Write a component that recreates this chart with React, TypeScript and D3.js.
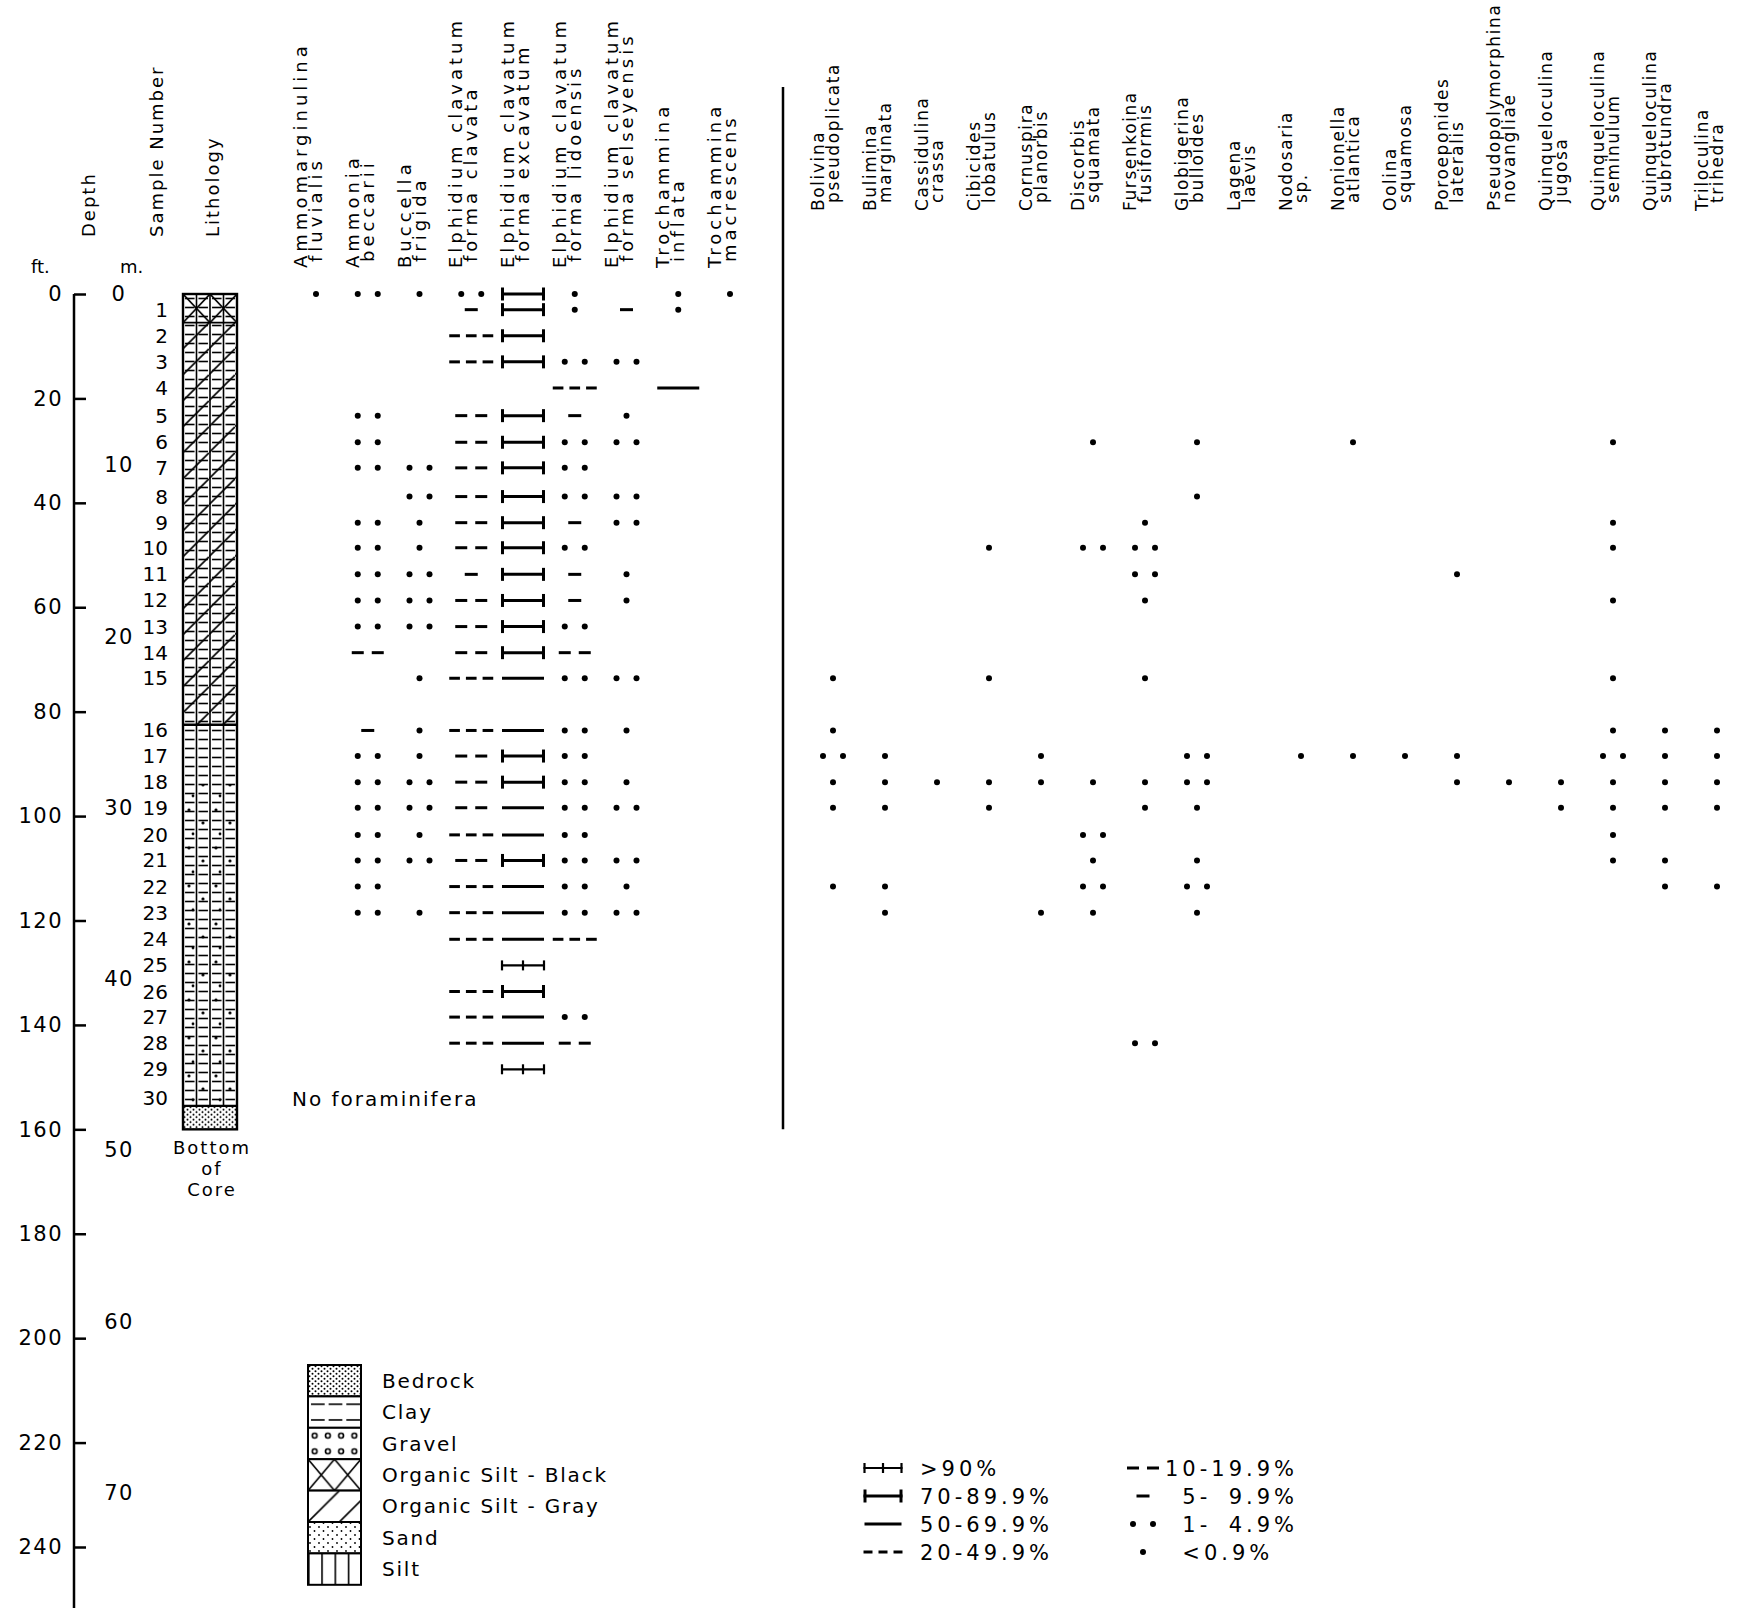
import React, { useEffect, useRef } from 'react';
import * as d3 from 'd3';

const FONT = "'DejaVu Sans', 'Liberation Sans', sans-serif";

// ---------- data ----------
const DEPTH_FT = [0, 3, 8, 13, 18, 23.3, 28.4, 33.3, 38.8, 43.8, 48.6, 53.7, 58.7, 63.7, 68.7, 73.6,
  83.6, 88.5, 93.5, 98.4, 103.6, 108.5, 113.5, 118.5, 123.6, 128.6, 133.6, 138.5, 143.5, 148.5, 154];
const SAMPLE_LABELS = ['', '1', '2', '3', '4', '5', '6', '7', '8', '9', '10', '11', '12', '13', '14', '15',
  '16', '17', '18', '19', '20', '21', '22', '23', '24', '25', '26', '27', '28', '29', '30'];
const FT_TICKS = [0, 20, 40, 60, 80, 100, 120, 140, 160, 180, 200, 220, 240];
const M_TICKS = [0, 10, 20, 30, 40, 50, 60, 70];
const FT_PER_M = 3.28084;

// abundance codes: 8 >90%, 7 70-89.9%, 6 50-69.9%, 5 20-49.9%, 4 10-19.9%, 3 5-9.9%, 2 1-4.9%, 1 <0.9%, 0 absent
const LEFT_TAXA: [string, string][] = [
  ['Ammomarginulina', 'fluvialis'],
  ['Ammonia', 'beccarii'],
  ['Buccella', 'frigida'],
  ['Elphidium clavatum', 'forma clavata'],
  ['Elphidium clavatum', 'forma excavatum'],
  ['Elphidium clavatum', 'forma lidoensis'],
  ['Elphidium clavatum', 'forma selseyensis'],
  ['Trochammina', 'inflata'],
  ['Trochammina', 'macrescens'],
];
const AMMOMARGINULINA = [1,0,0,0,0,0,0,0,0,0,0,0,0,0,0,0,0,0,0,0,0,0,0,0,0,0,0,0,0,0,0];
const AMMONIA         = [2,0,0,0,0,2,2,2,0,2,2,2,2,2,4,0,3,2,2,2,2,2,2,2,0,0,0,0,0,0,0];
const BUCCELLA        = [1,0,0,0,0,0,0,2,2,1,1,2,2,2,0,1,1,1,2,2,1,2,0,1,0,0,0,0,0,0,0];
const EC_CLAVATA      = [2,3,5,5,0,4,4,4,4,4,4,3,4,4,4,5,5,4,4,4,5,4,5,5,5,0,5,5,5,0,0];
const EC_EXCAVATUM    = [7,7,7,7,0,7,7,7,7,7,7,7,7,7,7,6,6,7,7,6,6,7,6,6,6,8,7,6,6,8,0];
const EC_LIDOENSIS    = [1,1,0,2,5,3,2,2,2,3,2,3,3,2,4,2,2,2,2,2,2,2,2,2,5,0,0,2,4,0,0];
const EC_SELSEYENSIS  = [0,3,0,2,0,1,2,0,2,2,0,1,1,0,0,2,1,0,1,2,0,2,1,2,0,0,0,0,0,0,0];
const TR_INFLATA      = [1,1,0,0,6,0,0,0,0,0,0,0,0,0,0,0,0,0,0,0,0,0,0,0,0,0,0,0,0,0,0];
const TR_MACRESCENS   = [1,0,0,0,0,0,0,0,0,0,0,0,0,0,0,0,0,0,0,0,0,0,0,0,0,0,0,0,0,0,0];
const LEFT_VALUES = [AMMOMARGINULINA, AMMONIA, BUCCELLA, EC_CLAVATA, EC_EXCAVATUM, EC_LIDOENSIS,
  EC_SELSEYENSIS, TR_INFLATA, TR_MACRESCENS];

const RIGHT_TAXA: [string, string][] = [
  ['Bolivina', 'pseudoplicata'],
  ['Bulimina', 'marginata'],
  ['Cassidulina', 'crassa'],
  ['Cibicides', 'lobatulus'],
  ['Cornuspira', 'planorbis'],
  ['Discorbis', 'squamata'],
  ['Fursenkoina', 'fusiformis'],
  ['Globigerina', 'bulloides'],
  ['Lagena', 'laevis'],
  ['Nodosaria', 'sp.'],
  ['Nonionella', 'atlantica'],
  ['Oolina', 'squamosa'],
  ['Poroeponides', 'lateralis'],
  ['Pseudopolymorphina', 'novangliae'],
  ['Quinqueloculina', 'jugosa'],
  ['Quinqueloculina', 'seminulum'],
  ['Quinqueloculina', 'subrotundra'],
  ['Triloculina', 'trihedra'],
];
const BOLIVINA      = [0,0,0,0,0,0,0,0,0,0,0,0,0,0,0,1,1,2,1,1,0,0,1,0,0,0,0,0,0,0,0];
const BULIMINA      = [0,0,0,0,0,0,0,0,0,0,0,0,0,0,0,0,0,1,1,1,0,0,1,1,0,0,0,0,0,0,0];
const CASSIDULINA   = [0,0,0,0,0,0,0,0,0,0,0,0,0,0,0,0,0,0,1,0,0,0,0,0,0,0,0,0,0,0,0];
const CIBICIDES     = [0,0,0,0,0,0,0,0,0,0,1,0,0,0,0,1,0,0,1,1,0,0,0,0,0,0,0,0,0,0,0];
const CORNUSPIRA    = [0,0,0,0,0,0,0,0,0,0,0,0,0,0,0,0,0,1,1,0,0,0,0,1,0,0,0,0,0,0,0];
const DISCORBIS     = [0,0,0,0,0,0,1,0,0,0,2,0,0,0,0,0,0,0,1,0,2,1,2,1,0,0,0,0,0,0,0];
const FURSENKOINA   = [0,0,0,0,0,0,0,0,0,1,2,2,1,0,0,1,0,0,1,1,0,0,0,0,0,0,0,0,2,0,0];
const GLOBIGERINA   = [0,0,0,0,0,0,1,0,1,0,0,0,0,0,0,0,0,2,2,1,0,1,2,1,0,0,0,0,0,0,0];
const LAGENA        = [0,0,0,0,0,0,0,0,0,0,0,0,0,0,0,0,0,0,0,0,0,0,0,0,0,0,0,0,0,0,0];
const NODOSARIA     = [0,0,0,0,0,0,0,0,0,0,0,0,0,0,0,0,0,1,0,0,0,0,0,0,0,0,0,0,0,0,0];
const NONIONELLA    = [0,0,0,0,0,0,1,0,0,0,0,0,0,0,0,0,0,1,0,0,0,0,0,0,0,0,0,0,0,0,0];
const OOLINA        = [0,0,0,0,0,0,0,0,0,0,0,0,0,0,0,0,0,1,0,0,0,0,0,0,0,0,0,0,0,0,0];
const POROEPONIDES  = [0,0,0,0,0,0,0,0,0,0,0,1,0,0,0,0,0,1,1,0,0,0,0,0,0,0,0,0,0,0,0];
const PSEUDOPOLY    = [0,0,0,0,0,0,0,0,0,0,0,0,0,0,0,0,0,0,1,0,0,0,0,0,0,0,0,0,0,0,0];
const Q_JUGOSA      = [0,0,0,0,0,0,0,0,0,0,0,0,0,0,0,0,0,0,1,1,0,0,0,0,0,0,0,0,0,0,0];
const Q_SEMINULUM   = [0,0,0,0,0,0,1,0,0,1,1,0,1,0,0,1,1,2,1,1,1,1,0,0,0,0,0,0,0,0,0];
const Q_SUBROTUNDRA = [0,0,0,0,0,0,0,0,0,0,0,0,0,0,0,0,1,1,1,1,0,1,1,0,0,0,0,0,0,0,0];
const TRILOCULINA   = [0,0,0,0,0,0,0,0,0,0,0,0,0,0,0,0,1,1,1,1,0,0,1,0,0,0,0,0,0,0,0];
const RIGHT_VALUES = [BOLIVINA, BULIMINA, CASSIDULINA, CIBICIDES, CORNUSPIRA, DISCORBIS, FURSENKOINA,
  GLOBIGERINA, LAGENA, NODOSARIA, NONIONELLA, OOLINA, POROEPONIDES, PSEUDOPOLY, Q_JUGOSA, Q_SEMINULUM,
  Q_SUBROTUNDRA, TRILOCULINA];

// lithology units (depth in ft)
const LITH_UNITS = [
  { top: 0, base: 5.5, fills: ['osb', 'clay'] },
  { top: 5.5, base: 82.5, fills: ['osg', 'clay'] },
  { top: 82.5, base: 155.5, fills: ['clay'] },
  { top: 94, base: 155.5, fills: ['sand'] },
  { top: 155.5, base: 160, fills: ['bedrock'] },
];
const SILT_TOP = 0, SILT_BASE = 155.5, CORE_BASE = 160;

const LITH_LEGEND = ['Bedrock', 'Clay', 'Gravel', 'Organic Silt - Black', 'Organic Silt - Gray', 'Sand', 'Silt'];
const LITH_LEGEND_KEYS = ['bedrock', 'clay', 'gravel', 'osb', 'osg', 'sand', 'silt'];

const PCT_LEFT_CODES = [8, 7, 6, 5];
const PCT_LEFT_LABELS = ['>90%', '70-89.9%', '50-69.9%', '20-49.9%'];
const PCT_RIGHT_CODES = [4, 3, 2, 1];
const PCT_RIGHT_LABELS = ['10-19.9%', '\u20075-\u20079.9%', '\u20071-\u20074.9%', '\u2007<0.9%'];

// ---------- drawing helpers ----------
function Sym({ code, cx, cy, w }: { code: number; cx: number; cy: number; w: number }) {
  const k = '#000';
  const x0 = cx - w / 2, x1 = cx + w / 2;
  switch (code) {
    case 8:
      return (
        <g stroke={k} strokeWidth={2.2}>
          <line x1={x0} x2={x1} y1={cy} y2={cy} />
          {[x0 + 1, cx, x1 - 1].map((x, i) => <line key={i} x1={x} x2={x} y1={cy - 5} y2={cy + 5} />)}
        </g>
      );
    case 7:
      return (
        <g stroke={k} strokeWidth={3}>
          <line x1={x0} x2={x1} y1={cy} y2={cy} />
          <line x1={x0 + 1.5} x2={x0 + 1.5} y1={cy - 6.5} y2={cy + 6.5} />
          <line x1={x1 - 1.5} x2={x1 - 1.5} y1={cy - 6.5} y2={cy + 6.5} />
        </g>
      );
    case 6:
      return <line stroke={k} strokeWidth={3} x1={x0 + 1} x2={x1 - 1} y1={cy} y2={cy} />;
    case 5: {
      const gap = 6, d = (w - 2 * gap) / 3;
      return (
        <g stroke={k} strokeWidth={3}>
          {[0, 1, 2].map(i => <line key={i} x1={x0 + i * (d + gap)} x2={x0 + i * (d + gap) + d} y1={cy} y2={cy} />)}
        </g>
      );
    }
    case 4:
      return (
        <g stroke={k} strokeWidth={3}>
          <line x1={cx - 16} x2={cx - 4} y1={cy} y2={cy} />
          <line x1={cx + 4} x2={cx + 16} y1={cy} y2={cy} />
        </g>
      );
    case 3:
      return <line stroke={k} strokeWidth={3} x1={cx - 6.5} x2={cx + 6.5} y1={cy} y2={cy} />;
    case 2:
      return (
        <g fill={k}>
          <circle cx={cx - 10} cy={cy} r={3} />
          <circle cx={cx + 10} cy={cy} r={3} />
        </g>
      );
    case 1:
      return <circle fill={k} cx={cx} cy={cy} r={3} />;
    default:
      return null;
  }
}

function PatternDefs({ id, kind, x, y, sub, cell }: { id: string; kind: string; x: number; y: number; sub: number; cell: number }) {
  const s = '#000';
  if (kind === 'clay')
    return (
      <pattern id={id} patternUnits="userSpaceOnUse" x={x} y={y} width={sub} height={cell}>
        <path d={`M2 ${cell / 2}H${sub - 2}`} stroke={s} strokeWidth={1.6} />
      </pattern>
    );
  if (kind === 'osg')
    return (
      <pattern id={id} patternUnits="userSpaceOnUse" x={x} y={y} width={cell} height={cell}>
        <path d={`M-1 ${cell + 1}L${cell + 1} -1`} stroke={s} strokeWidth={1.6} />
      </pattern>
    );
  if (kind === 'osb')
    return (
      <pattern id={id} patternUnits="userSpaceOnUse" x={x} y={y} width={sub * 2} height={cell}>
        <path d={`M0 0L${sub * 2} ${cell}M${sub * 2} 0L0 ${cell}`} stroke={s} strokeWidth={1.6} />
      </pattern>
    );
  if (kind === 'sand')
    return (
      <pattern id={id} patternUnits="userSpaceOnUse" x={x} y={y} width={27} height={38}>
        <circle cx={6} cy={8} r={1.6} fill={s} />
        <circle cx={20} cy={21} r={1.6} fill={s} />
        <circle cx={10} cy={32} r={1.4} fill={s} />
      </pattern>
    );
  if (kind === 'sandLegend')
    return (
      <pattern id={id} patternUnits="userSpaceOnUse" x={x} y={y} width={9} height={8}>
        <circle cx={2} cy={2} r={0.9} fill={s} />
        <circle cx={6.5} cy={6} r={0.9} fill={s} />
      </pattern>
    );
  if (kind === 'bedrock')
    return (
      <pattern id={id} patternUnits="userSpaceOnUse" x={x} y={y} width={6} height={5}>
        <circle cx={1.5} cy={1.2} r={1} fill={s} />
        <circle cx={4.5} cy={3.7} r={1} fill={s} />
      </pattern>
    );
  if (kind === 'gravel')
    return (
      <pattern id={id} patternUnits="userSpaceOnUse" x={x} y={y} width={sub} height={cell}>
        <circle cx={sub / 2} cy={cell / 2} r={2.4} fill="none" stroke={s} strokeWidth={1.6} />
      </pattern>
    );
  if (kind === 'silt')
    return (
      <pattern id={id} patternUnits="userSpaceOnUse" x={x} y={y} width={sub} height={cell}>
        <line x1={0.8} x2={0.8} y1={0} y2={cell} stroke={s} strokeWidth={1.6} />
      </pattern>
    );
  return null;
}

export default function App() {
  const W = 1743, H = 1608;
  const axisRef = useRef<SVGGElement>(null);

  const y = d3.scaleLinear().domain([0, 240]).range([294, 1547]);
  const xL = d3.scalePoint<number>().domain(d3.range(LEFT_TAXA.length)).range([316, 730]);
  const xR = d3.scalePoint<number>().domain(d3.range(RIGHT_TAXA.length)).range([833, 1717]);

  const AXIS_X = 74;
  const COL_X0 = 183, COL_W = 54, SUB = COL_W / 4;

  useEffect(() => {
    if (!axisRef.current) return;
    const g = d3.select(axisRef.current);
    g.selectAll('*').remove();
    const axis = d3.axisLeft(y).tickValues(FT_TICKS).tickSizeInner(-12).tickSizeOuter(0).tickPadding(11)
      .tickFormat(d => String(d));
    g.call(axis as any);
    g.attr('font-family', FONT).attr('font-size', 21);
    g.select('.domain').remove();
    g.selectAll('.tick line').attr('stroke', '#000').attr('stroke-width', 2.5);
    g.selectAll('.tick text').attr('fill', '#000').attr('letter-spacing', 1.5);
  }, []);

  const nRows = DEPTH_FT.length;
  const legTop = 1365, legStep = 31.4, legX = 308, legW = 53;
  const pctTop = 1468, pctStep = 28;

  return (
    <svg width={W} height={H} style={{ position: 'absolute', left: 0, top: 0, background: '#fff' }}
      fontFamily={FONT}>
      <defs>
        <PatternDefs id="c-clay" kind="clay" x={COL_X0} y={y(0)} sub={SUB} cell={9} />
        <PatternDefs id="c-osg" kind="osg" x={COL_X0} y={y(5.5)} sub={SUB} cell={26} />
        <PatternDefs id="c-osb" kind="osb" x={COL_X0} y={y(0)} sub={SUB} cell={y(5.5) - y(0)} />
        <PatternDefs id="c-sand" kind="sand" x={COL_X0} y={y(90)} sub={SUB} cell={9} />
        <PatternDefs id="c-bedrock" kind="bedrock" x={COL_X0} y={y(155.5)} sub={SUB} cell={9} />
        <PatternDefs id="l-bedrock" kind="bedrock" x={legX} y={legTop} sub={legW / 4} cell={legStep} />
        <PatternDefs id="l-clay" kind="clay" x={legX + 1} y={legTop} sub={legW / 3} cell={legStep / 2} />
        <PatternDefs id="l-gravel" kind="gravel" x={legX} y={legTop} sub={legW / 4} cell={legStep / 2} />
        <PatternDefs id="l-osb" kind="osb" x={legX} y={legTop} sub={legW / 4} cell={legStep} />
        <PatternDefs id="l-osg" kind="osg" x={legX} y={legTop} sub={legW / 4} cell={legStep} />
        <PatternDefs id="l-sand" kind="sandLegend" x={legX} y={legTop} sub={legW / 4} cell={legStep} />
        <PatternDefs id="l-silt" kind="silt" x={legX} y={legTop} sub={legW / 4} cell={legStep} />
      </defs>
      <rect x={0} y={0} width={W} height={H} fill="#fff" />

      {/* headers */}
      {[['Depth', 95], ['Sample Number', 163], ['Lithology', 219]].map(([t, x]) => (
        <text key={t as string} transform={`translate(${x},237) rotate(-90)`} fontSize={18} letterSpacing={2}>{t}</text>
      ))}
      <text x={31} y={273} fontSize={18}>ft.</text>
      <text x={120} y={273} fontSize={18}>m.</text>

      {/* depth axis */}
      <line x1={AXIS_X} x2={AXIS_X} y1={y(0)} y2={H} stroke="#000" strokeWidth={2.5} />
      <g ref={axisRef} transform={`translate(${AXIS_X},0)`} />
      {M_TICKS.map(m => (
        <text key={m} x={119} y={y(m * FT_PER_M) + 7} fontSize={21} letterSpacing={1.5} textAnchor="middle">{m}</text>
      ))}

      {/* sample numbers */}
      {SAMPLE_LABELS.map((s, i) => s ? (
        <text key={i} x={168} y={y(DEPTH_FT[i]) + 7} fontSize={20} textAnchor="end">{s}</text>
      ) : null)}

      {/* lithology column */}
      <g>
        {LITH_UNITS.map((u, i) => (
          <g key={i}>
            {u.fills.map(f => (
              <rect key={f} x={COL_X0} y={y(u.top)} width={COL_W} height={y(u.base) - y(u.top)} fill={`url(#c-${f})`} />
            ))}
          </g>
        ))}
        {[1, 2, 3].map(i => (
          <line key={i} x1={COL_X0 + i * SUB} x2={COL_X0 + i * SUB} y1={y(SILT_TOP)} y2={y(SILT_BASE)} stroke="#000" strokeWidth={1.6} />
        ))}
        {[5.5, 82.5, 155.5].map(d => (
          <line key={d} x1={COL_X0} x2={COL_X0 + COL_W} y1={y(d)} y2={y(d)} stroke="#000" strokeWidth={d === 5.5 ? 1.8 : 2.4} />
        ))}
        <rect x={COL_X0} y={y(0)} width={COL_W} height={y(CORE_BASE) - y(0)} fill="none" stroke="#000" strokeWidth={2.4} />
        {['Bottom', 'of', 'Core'].map((t, i) => (
          <text key={t} x={COL_X0 + COL_W / 2 + 2} y={y(CORE_BASE) + 25 + i * 21} fontSize={18} letterSpacing={2} textAnchor="middle">{t}</text>
        ))}
      </g>

      {/* taxa labels */}
      {LEFT_TAXA.map((t, i) => (
        <g key={i} fontSize={18} letterSpacing={4}>
          <text transform={`translate(${(xL(i) as number) - 9},268) rotate(-90)`}>{t[0]}</text>
          <text transform={`translate(${(xL(i) as number) + 6},262) rotate(-90)`}>{t[1]}</text>
        </g>
      ))}
      {RIGHT_TAXA.map((t, i) => (
        <g key={i} fontSize={17} letterSpacing={1.6}>
          <text transform={`translate(${(xR(i) as number) - 9},211) rotate(-90)`}>{t[0]}</text>
          <text transform={`translate(${(xR(i) as number) + 6},203) rotate(-90)`}>{t[1]}</text>
        </g>
      ))}

      {/* divider */}
      <line x1={783} x2={783} y1={87} y2={y(CORE_BASE)} stroke="#000" strokeWidth={2.5} />

      {/* occurrence symbols */}
      {LEFT_VALUES.map((vals, j) => (
        <g key={j}>
          {vals.map((v, i) => v ? <Sym key={i} code={v} cx={xL(j) as number} cy={y(DEPTH_FT[i])} w={44} /> : null)}
        </g>
      ))}
      {RIGHT_VALUES.map((vals, j) => (
        <g key={j}>
          {vals.map((v, i) => v ? <Sym key={i} code={v} cx={xR(j) as number} cy={y(DEPTH_FT[i])} w={44} /> : null)}
        </g>
      ))}
      <text x={(xL(0) as number) - 24} y={y(DEPTH_FT[nRows - 1]) + 8} fontSize={20} letterSpacing={2}>No foraminifera</text>

      {/* lithology legend */}
      {LITH_LEGEND.map((t, i) => (
        <g key={t}>
          <rect x={legX} y={legTop + i * legStep} width={legW} height={legStep} fill="#fff" />
          <rect x={legX} y={legTop + i * legStep} width={legW} height={legStep} fill={`url(#l-${LITH_LEGEND_KEYS[i]})`} stroke="#000" strokeWidth={2} />
          <text x={382} y={legTop + i * legStep + legStep / 2 + 7} fontSize={20} letterSpacing={1.8}>{t}</text>
        </g>
      ))}

      {/* percentage legend */}
      {PCT_LEFT_CODES.map((c, i) => (
        <g key={c}>
          <Sym code={c} cx={883} cy={pctTop + i * pctStep} w={39} />
          <text x={920} y={pctTop + i * pctStep + 7.5} fontSize={21} letterSpacing={4}>{PCT_LEFT_LABELS[i]}</text>
        </g>
      ))}
      {PCT_RIGHT_CODES.map((c, i) => (
        <g key={c}>
          <Sym code={c} cx={1143} cy={pctTop + i * pctStep} w={39} />
          <text x={1165} y={pctTop + i * pctStep + 7.5} fontSize={21} letterSpacing={4} style={{ whiteSpace: 'pre' }}>{PCT_RIGHT_LABELS[i]}</text>
        </g>
      ))}
    </svg>
  );
}
